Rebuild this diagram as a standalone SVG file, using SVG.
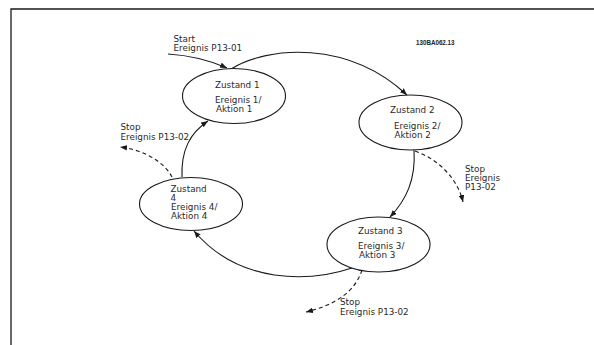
<svg xmlns="http://www.w3.org/2000/svg" width="594" height="345" viewBox="0 0 594 345">
<style>
.t{font-family:"DejaVu Sans",Verdana,sans-serif;font-size:8.8px;fill:#2a2a2a}
.e{fill:#fff;stroke:#1a1a1a;stroke-width:1.1}
.c{fill:none;stroke:#1a1a1a;stroke-width:1.1}
.d{fill:none;stroke:#1a1a1a;stroke-width:1.1;stroke-dasharray:4 3}
.id{font-family:"Liberation Sans",Arial,sans-serif;font-size:6.8px;font-weight:bold;fill:#222}
</style>
<defs>
<marker id="ah" viewBox="0 0 10 8" refX="10" refY="4" markerWidth="7" markerHeight="5.6" markerUnits="userSpaceOnUse" orient="auto">
<path d="M0,0 L10,4 L0,8 Z" fill="#1a1a1a"/>
</marker>
</defs>
<rect width="594" height="345" fill="#fff"/>
<path d="M11,345 V9 H594" fill="none" stroke="#1a1a1a" stroke-width="1.3"/>
<text class="id" x="416" y="45" textLength="38.5" lengthAdjust="spacingAndGlyphs">130BA062.13</text>
<g id="connectors">
<path class="c" d="M168,54 Q200,56 227,68" marker-end="url(#ah)"/>
<path class="c" d="M231,69 C268,46 348,40 407,95" marker-end="url(#ah)"/>
<path class="c" d="M414,150 C416,180 406,200 390,217" marker-end="url(#ah)"/>
<path class="c" d="M352,268 C310,282 240,285 194,231" marker-end="url(#ah)"/>
<path class="c" d="M182,177 C181,150 190,133 208,121" marker-end="url(#ah)"/>
<path class="d" d="M172,177 C165,163 145,150 120,147" marker-end="url(#ah)"/>
<path class="d" d="M415,151 C440,160 458,180 463,202" marker-end="url(#ah)"/>
<path class="d" d="M362,270 C355,292 335,305 306,312" marker-end="url(#ah)"/>
</g>
<g id="start-label">
<text class="t" x="173.5" y="42">Start</text>
<text class="t" x="173.5" y="51">Ereignis P13-01</text>
</g>
<g id="zustand1">
<ellipse class="e" cx="234" cy="96" rx="51.5" ry="27.5"/>
<text class="t" x="215" y="87.5">Zustand 1</text>
<text class="t" x="215" y="102.5">Ereignis 1/</text>
<text class="t" x="216" y="111.5">Aktion 1</text>
</g>
<g id="zustand2">
<ellipse class="e" cx="410.5" cy="122.5" rx="51.5" ry="27.5"/>
<text class="t" x="390" y="112.5">Zustand 2</text>
<text class="t" x="394" y="128.5">Ereignis 2/</text>
<text class="t" x="394.5" y="137.5">Aktion 2</text>
</g>
<g id="zustand3">
<ellipse class="e" cx="378.5" cy="244.5" rx="51.5" ry="27.5"/>
<text class="t" x="358" y="233.5">Zustand 3</text>
<text class="t" x="358" y="248.5">Ereignis 3/</text>
<text class="t" x="359" y="257.5">Aktion 3</text>
</g>
<g id="zustand4">
<ellipse class="e" cx="191" cy="204" rx="51.5" ry="26.5"/>
<text class="t" x="170.5" y="191.5">Zustand</text>
<text class="t" x="170.5" y="200.5">4</text>
<text class="t" x="171" y="209.5">Ereignis 4/</text>
<text class="t" x="171" y="218.5">Aktion 4</text>
</g>
<g id="stop-labels">
<text class="t" x="120.5" y="130">Stop</text>
<text class="t" x="120.5" y="139.5">Ereignis P13-02</text>
<text class="t" x="465" y="171.5">Stop</text>
<text class="t" x="465" y="180.5">Ereignis</text>
<text class="t" x="465" y="189.5">P13-02</text>
<text class="t" x="340" y="305">Stop</text>
<text class="t" x="340" y="314.5">Ereignis P13-02</text>
</g>
</svg>
